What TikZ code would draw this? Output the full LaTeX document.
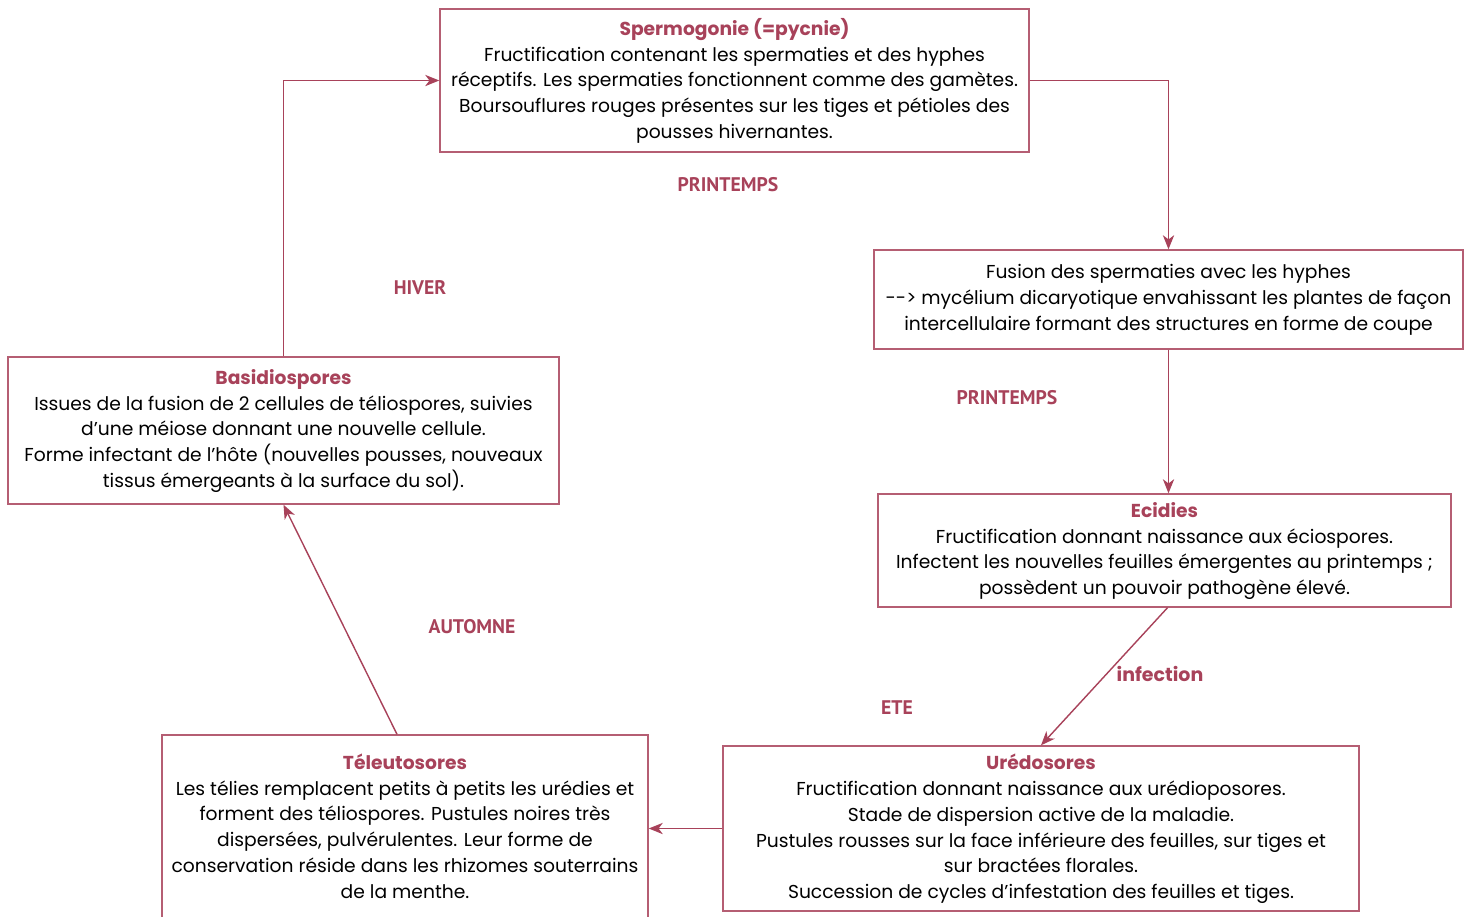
\documentclass[tikz,border=0pt]{standalone}
\usepackage{fontspec}
\setmainfont{Poppins}
\newfontfamily\seasonfont{PT Sans}
\usetikzlibrary{arrows.meta}
\definecolor{rose}{RGB}{168,66,90}
\newcommand{\boxtitle}[1]{{\color{rose}\bfseries #1}}

\begin{document}
\begin{tikzpicture}[x=0.025cm,y=-0.025cm,
  box/.style={draw=rose!85, line width=1pt, rectangle, align=center, inner sep=0pt,
    text depth=3pt, font=\fontsize{13.3}{18.3}\selectfont},
  season/.style={text=rose, font=\seasonfont\bfseries\fontsize{14}{16}\selectfont},
  flow/.style={draw=rose, line width=1pt, -{Stealth[length=10pt,width=8pt,inset=3pt]}}]

\def\px{0.025cm};

\useasboundingbox[fill=white] (0,0) rectangle (1474,916);

\node[box, minimum width={589*\px}, minimum height={143*\px}] (sperm) at (734.5,80.5)
  {\boxtitle{Spermogonie (=pycnie)}\\
   Fructification contenant les spermaties et des hyphes\\
   réceptifs. Les spermaties fonctionnent comme des gamètes.\\
   Boursouflures rouges présentes sur les tiges et pétioles des\\
   pousses hivernantes.};
\node[box, minimum width={589*\px}, minimum height={99*\px}] (fusion) at (1168.5,299.5)
  {Fusion des spermaties avec les hyphes\\
   {-}{-}> mycélium dicaryotique envahissant les plantes de façon\\
   intercellulaire formant des structures en forme de coupe};
\node[box, minimum width={573*\px}, minimum height={113*\px}] (ecid) at (1164.5,550.5)
  {\boxtitle{Ecidies}\\
   Fructification donnant naissance aux éciospores.\\
   Infectent les nouvelles feuilles émergentes au printemps ;\\
   possèdent un pouvoir pathogène élevé.};
\node[box, minimum width={636*\px}, minimum height={165*\px}] (uredo) at (1041,828.5)
  {\boxtitle{Urédosores}\\
   Fructification donnant naissance aux urédioposores.\\
   Stade de dispersion active de la maladie.\\
   Pustules rousses sur la face inférieure des feuilles, sur tiges et\\
   sur bractées florales.\\
   Succession de cycles d’infestation des feuilles et tiges.};
\node[box, minimum width={486*\px}, minimum height={186*\px}] (tele) at (405,828)
  {\boxtitle{Téleutosores}\\
   Les télies remplacent petits à petits les urédies et\\
   forment des téliospores. Pustules noires très\\
   dispersées, pulvérulentes. Leur forme de\\
   conservation réside dans les rhizomes souterrains\\
   de la menthe.};
\node[box, minimum width={551*\px}, minimum height={147*\px}] (basid) at (283.5,430.5)
  {\boxtitle{Basidiospores}\\
   Issues de la fusion de 2 cellules de téliospores, suivies\\
   d’une méiose donnant une nouvelle cellule.\\
   Forme infectant de l’hôte (nouvelles pousses, nouveaux\\
   tissus émergeants à la surface du sol).};

\node[season] (spring1) at (728,185) {PRINTEMPS};
\node[season] (winter) at (420,288) {HIVER};
\node[season] (spring2) at (1007,398) {PRINTEMPS};
\node[text=rose, font=\bfseries\fontsize{13.5}{16}\selectfont] (infect) at (1160,674) {infection};
\node[season] (summer) at (897,708) {ETE};
\node[season] (autumn) at (472,627) {AUTOMNE};

\draw[flow] (sperm.east) -| (fusion.north);
\draw[flow] (fusion.south) -- (fusion.south |- ecid.north);
\draw[flow] ([xshift=3*\px]ecid.south) -- (uredo.north);
\draw[flow] (uredo.west) -- (uredo.west -| tele.east);
\draw[flow] ([xshift=-8*\px]tele.north) -- (basid.south);
\draw[flow] (basid.north) |- (sperm.west);
\end{tikzpicture}
\end{document}
